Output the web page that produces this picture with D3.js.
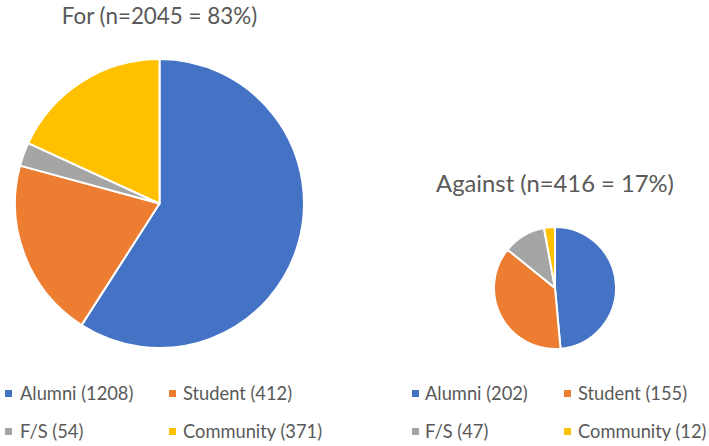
<!DOCTYPE html>
<html>
<head>
<meta charset="utf-8">
<script src="https://cdn.jsdelivr.net/npm/d3@7"></script>
<style>
  body { margin: 0; background: #fff; }
  text { font-family: Lato, "Open Sans", sans-serif; fill: #595959; }
</style>
</head>
<body>
<div id="vis"></div>
<script>
var width = 709,
    height = 446;

var categories = ["Alumni", "Student", "F/S", "Community"];
var colors = ["#4472C4", "#ED7D31", "#A5A5A5", "#FFC000"];
var forValues = [1208, 412, 54, 371];
var againstValues = [202, 155, 47, 12];
var titles = ["For (n=2045 = 83%)", "Against (n=416 = 17%)"];

var svg = d3.select("#vis").append("svg")
    .attr("width", width)
    .attr("height", height)
    .style("background", "#fff");

var color = d3.scaleOrdinal().domain(categories).range(colors);

var pie = d3.pie().sort(null);

var charts = [{
    values: forValues, title: titles[0],
    cx: 159.5, cy: 203.5, r: 144.5, titleY: 24, titleSize: 22.4,
    legendX: [5, 169], textX: [20, 183]
}, {
    values: againstValues, title: titles[1],
    cx: 555, cy: 288, r: 61, titleY: 192, titleSize: 23.8,
    legendX: [412, 564], textX: [425, 578]
}];

charts.forEach(function(c) {
    var arc = d3.arc().innerRadius(0).outerRadius(c.r);
    var g = svg.append("g")
        .attr("transform", "translate(" + [c.cx, c.cy] + ")");

    g.selectAll("path")
        .data(pie(c.values))
        .enter().append("path")
        .attr("d", arc)
        .attr("fill", function(d, i) { return color(categories[i]); })
        .attr("stroke", "#fff")
        .attr("stroke-width", 2)
        .attr("stroke-linejoin", "round");

    svg.append("text")
        .attr("x", c.cx)
        .attr("y", c.titleY)
        .attr("text-anchor", "middle")
        .style("font-size", c.titleSize + "px")
        .text(c.title);

    var items = svg.selectAll(null)
        .data(categories.map(function(k, i) { return { k: k, v: c.values[i], i: i }; }))
        .enter().append("g")
        .attr("transform", function(d) {
            return "translate(0," + (d.i < 2 ? 400 : 438) + ")";
        });

    items.append("rect")
        .attr("x", function(d) { return c.legendX[d.i % 2]; })
        .attr("y", -10)
        .attr("width", 7)
        .attr("height", 7)
        .attr("fill", function(d) { return color(d.k); });

    items.append("text")
        .attr("x", function(d) { return c.textX[d.i % 2]; })
        .attr("y", 0)
        .style("font-size", "18.3px")
        .text(function(d) { return d.k + " (" + d.v + ")"; });
});
</script>
</body>
</html>
